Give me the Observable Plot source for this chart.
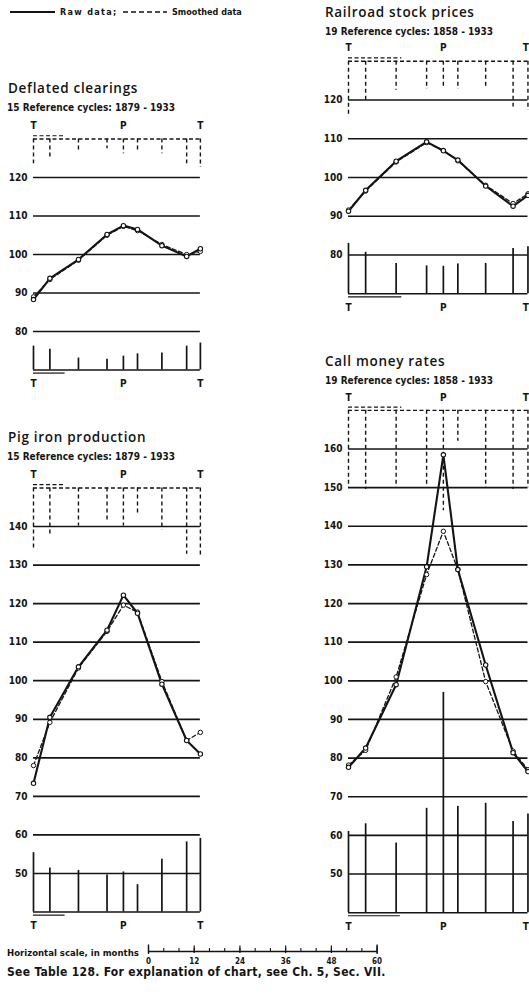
<!DOCTYPE html>
<html><head><meta charset="utf-8">
<script src="https://cdn.jsdelivr.net/npm/d3@7"></script>
<script src="https://cdn.jsdelivr.net/npm/@observablehq/plot@0.6"></script>
<style>
html,body{margin:0;padding:0;background:#fff;}
#page{position:relative;width:529px;height:1007px;overflow:hidden;background:#fff;color:#141414;}
.t{position:absolute;white-space:nowrap;line-height:1;transform:translateY(-50%);}
.title{font-family:"Open Sans",sans-serif;font-weight:600;font-size:13.5px;letter-spacing:0.7px;}
.sub{font-family:"DejaVu Sans Condensed","DejaVu Sans",sans-serif;font-weight:bold;font-size:10px;}
.small{font-family:"DejaVu Sans Condensed","DejaVu Sans",sans-serif;font-weight:bold;font-size:9px;}
.hs{font-size:9.5px;}
.wide{letter-spacing:1.3px;}
.note{font-family:"DejaVu Sans Condensed","DejaVu Sans",sans-serif;font-weight:bold;font-size:12px;letter-spacing:0.3px;}
svg{position:absolute;}
</style></head><body><div id="page"></div>
<script>
// ---------------- DATA ----------------
// stage positions, months from initial reference trough (stages I..IX)
const leftStages  = [0, 4.3, 11.8, 19.3, 23.6, 27.3, 33.7, 40.2, 43.8];  // 15 cycles 1879-1933
const rightStages = [0, 4.5, 12.5, 20.5, 24.9, 28.7, 36.0, 43.2, 47.1];  // 19 cycles 1858-1933

// Deflated clearings
const clearingsRaw      = [88.3, 93.8, 98.7, 105.2, 107.5, 106.5, 102.3, 99.5, 101.5];
const clearingsSmooth   = [89.0, 93.5, 98.5, 105.0, 107.3, 106.2, 102.6, 100.0, 100.8];
const clearingsSmoothDev= [6.4, 4.8, 3.5, 2.5, 3.8, 3.0, 3.8, 6.4, 7.4];
const clearingsRawDev   = [6.2, 5.4, 3.1, 2.8, 3.6, 4.2, 4.4, 6.2, 7.0];
const clearingsTicks    = [120, 110, 100, 90, 80];

// Pig iron production
const pigRaw       = [73.4, 90.5, 103.6, 113.1, 122.2, 117.5, 99.1, 84.5, 81.0];
const pigSmooth    = [78.0, 89.2, 103.3, 112.8, 119.6, 117.8, 99.8, 84.5, 86.6];
const pigSmoothDev = [15.9, 12.2, 9.9, 8.9, 9.9, 7.3, 11.0, 17.2, 17.7];
const pigRawDev    = [15.4, 11.4, 10.8, 9.6, 10.4, 7.1, 13.7, 18.2, 19.1];
const pigTicks     = [140, 130, 120, 110, 100, 90, 80, 70, 60, 50];

// Railroad stock prices
const railRaw       = [91.3, 96.7, 104.2, 109.2, 106.9, 104.5, 97.8, 92.6, 95.4];
const railSmooth    = [91.6, 96.5, 104.0, 109.0, 107.0, 104.3, 98.0, 93.3, 95.8];
const railSmoothDev = [14.4, 10.3, 7.5, 7.3, 7.1, 7.3, 7.1, 11.8, 12.7];
const railRawDev    = [13.0, 10.7, 7.8, 7.2, 7.1, 7.7, 7.8, 11.7, 12.1];
const railTicks     = [120, 110, 100, 90, 80];

// Call money rates
const callRaw       = [77.6, 82.6, 99.0, 129.5, 158.5, 128.8, 104.1, 81.4, 76.5];
const callSmooth    = [78.2, 82.0, 101.0, 127.5, 138.7, 128.8, 99.8, 81.8, 77.0];
const callSmoothDev = [20.0, 20.5, 19.6, 19.8, 26.0, 8.0, 20.0, 20.5, 20.0];
const callRawDev    = [21.0, 23.0, 18.0, 27.0, 57.0, 27.5, 28.3, 23.6, 25.5];
const callTicks     = [160, 150, 140, 130, 120, 110, 100, 90, 80, 70, 60, 50];

// Texts
const legendRaw = "Raw data;";
const legendSmooth = "Smoothed data";
const titles = ["Deflated clearings", "Pig iron production", "Railroad stock prices", "Call money rates"];
const subtitles = ["15 Reference cycles: 1879 - 1933", "15 Reference cycles: 1879 - 1933",
                   "19 Reference cycles: 1858 - 1933", "19 Reference cycles: 1858 - 1933"];
const scaleLabel = "Horizontal scale, in months";
const scaleTicks = [0, 12, 24, 36, 48, 60];
const scaleMinor = d3.range(0, 61, 4);
const footNote = "See Table 128. For explanation of chart, see Ch. 5, Sec. VII.";

// ---------------- DRAWING ----------------
const INK = "#141414";
const PXM = 3.81; // pixels per month
const FONT = "'DejaVu Sans Condensed','DejaVu Sans',sans-serif";
const page = document.getElementById("page");

function label(txt, x, y, cls) {
  const d = document.createElement("div");
  d.className = "t " + cls; d.textContent = txt;
  d.style.left = x + "px"; d.style.top = y + "px";
  page.appendChild(d);
}

function makePanel(c) {
  const [v1, p1, v2, p2] = c.anchor;
  const k = (p2 - p1) / (v2 - v1);
  const ypx = v => p1 + (v - v1) * k - c.top;
  const yDomain = [c.base - 6, c.topLine + 6];
  const rows = c.stages.map((m, i) => ({
    m, raw: c.raw[i], smooth: c.smooth[i],
    td: c.topLine - c.smoothDev[i], bd: c.base + c.rawDev[i]
  }));
  const end = c.stages[c.stages.length - 1];
  const peak = c.stages[4];
  const tpt = [{x: 0, s: "T", a: "middle"}, {x: peak, s: "P", a: "middle"}, {x: end, s: "T", a: c.endAnchor}];
  const txt = {fontFamily: FONT, fontWeight: "bold", fill: INK};
  const letters = (y, dy) => ["middle", "end"].map(a =>
    Plot.text(tpt.filter(d => d.a === a), {x: "x", y, text: "s", dy, textAnchor: a, dx: a === "end" ? 1 : 0, fontSize: 10, ...txt}));
  const svg = Plot.plot({
    width: c.width, height: c.height, margin: 0,
    x: {domain: [0, 60], range: [c.x0 - c.left, c.x0 - c.left + 60 * PXM], axis: null},
    y: {domain: yDomain, range: yDomain.map(ypx), axis: null},
    style: {background: "transparent", overflow: "visible"},
    marks: [
      Plot.ruleY(c.ticks, {x1: 0, x2: end, stroke: INK, strokeWidth: 1.7}),
      Plot.text(c.ticks, {x: 0, y: d => d, text: d => String(d), textAnchor: "end", dx: -6, fontSize: 10, ...txt}),
      // top: smoothed-data deviations (dashed)
      Plot.ruleY([c.topLine], {x1: 0, x2: end, stroke: INK, strokeWidth: 1.4, strokeDasharray: "4,2.5"}),
      Plot.ruleY([c.topLine + 0.85], {x1: 0, x2: c.lead, stroke: INK, strokeWidth: 1.2, strokeDasharray: "4,2.5"}),
      Plot.ruleX(rows, {x: "m", y1: c.topLine, y2: "td", stroke: INK, strokeWidth: 1.4, strokeDasharray: "4,3"}),
      // bottom: raw-data deviations (solid)
      Plot.ruleY([c.base], {x1: 0, x2: end, stroke: INK, strokeWidth: 1.5}),
      Plot.ruleY([c.base - 0.8], {x1: 0, x2: c.leadLow, stroke: INK, strokeWidth: 1.2}),
      Plot.ruleX(rows, {x: "m", y1: c.base, y2: "bd", stroke: INK, strokeWidth: 1.7}),
      // patterns
      Plot.line(rows, {x: "m", y: "smooth", stroke: INK, strokeWidth: 1.3, strokeDasharray: "4,2.5"}),
      Plot.line(rows, {x: "m", y: "raw", stroke: INK, strokeWidth: 2.1}),
      Plot.dot(rows, {x: "m", y: "smooth", r: 2.2, fill: "white", stroke: INK, strokeWidth: 1}),
      Plot.dot(rows, {x: "m", y: "raw", r: 2.2, fill: "white", stroke: INK, strokeWidth: 1.1}),
      // stage letters
      ...letters(c.topLine, -13),
      ...letters(c.base, 14)
    ]
  });
  svg.style.left = c.left + "px";
  svg.style.top = c.top + "px";
  page.appendChild(svg);
}

// legend
label(legendRaw, 60, 12, "small wide");
label(legendSmooth, 172, 12, "small");
{
  const lg = d3.create("svg").attr("width", 529).attr("height", 24).style("left", "0px").style("top", "0px");
  lg.append("line").attr("x1", 10).attr("x2", 55).attr("y1", 12).attr("y2", 12).attr("stroke", INK).attr("stroke-width", 1.8);
  lg.append("line").attr("x1", 123).attr("x2", 167).attr("y1", 12).attr("y2", 12).attr("stroke", INK).attr("stroke-width", 1.6).attr("stroke-dasharray", "5,3");
  page.appendChild(lg.node());
}

// titles
label(titles[0], 8, 89, "title");   label(subtitles[0], 7, 108, "sub");
label(titles[1], 8, 438, "title");  label(subtitles[1], 7, 457, "sub");
label(titles[2], 325, 13, "title"); label(subtitles[2], 325, 32, "sub");
label(titles[3], 325, 362, "title");label(subtitles[3], 325, 381, "sub");

makePanel({left: 0, top: 60, width: 265, height: 340, x0: 33, anchor: [120, 177, 80, 331], endAnchor: "middle",
  stages: leftStages, raw: clearingsRaw, smooth: clearingsSmooth, smoothDev: clearingsSmoothDev,
  rawDev: clearingsRawDev, ticks: clearingsTicks, topLine: 130, base: 70, lead: 8.5, leadLow: 8.3});
makePanel({left: 0, top: 420, width: 265, height: 520, x0: 33, anchor: [140, 526, 50, 873], endAnchor: "middle",
  stages: leftStages, raw: pigRaw, smooth: pigSmooth, smoothDev: pigSmoothDev,
  rawDev: pigRawDev, ticks: pigTicks, topLine: 150, base: 40, lead: 8.5, leadLow: 8.3});
makePanel({left: 265, top: 30, width: 300, height: 300, x0: 348, anchor: [120, 99.5, 80, 254.5], endAnchor: "end",
  stages: rightStages, raw: railRaw, smooth: railSmooth, smoothDev: railSmoothDev,
  rawDev: railRawDev, ticks: railTicks, topLine: 130, base: 70, lead: 14, leadLow: 14});
makePanel({left: 265, top: 385, width: 300, height: 555, x0: 348, anchor: [160, 448.5, 50, 873.5], endAnchor: "end",
  stages: rightStages, raw: callRaw, smooth: callSmooth, smoothDev: callSmoothDev,
  rawDev: callRawDev, ticks: callTicks, topLine: 170, base: 40, lead: 14, leadLow: 13.6});

// horizontal scale
label(scaleLabel, 7, 953, "small hs");
{
  const svg = Plot.plot({
    width: 529, height: 30, margin: 0,
    x: {domain: [0, 60], range: [148, 148 + 60 * PXM], axis: null},
    y: {domain: [0, 1], range: [11, 5], axis: null},
    style: {background: "transparent", overflow: "visible"},
    marks: [
      Plot.ruleY([0], {x1: 0, x2: 60, stroke: INK, strokeWidth: 1.3}),
      Plot.ruleX(scaleMinor, {y1: 0, y2: 0.5, stroke: INK, strokeWidth: 1.1}),
      Plot.ruleX(scaleTicks, {y1: -0.35, y2: 0.9, stroke: INK, strokeWidth: 1.2}),
      Plot.ruleX([0, 60], {y1: -0.5, y2: 1.1, stroke: INK, strokeWidth: 1.3}),
      Plot.text(scaleTicks, {x: d => d, y: 0, text: d => String(d), dy: 10, fontSize: 8, fontFamily: FONT, fontWeight: "bold", fill: INK})
    ]
  });
  svg.style.left = "0px"; svg.style.top = "940px";
  page.appendChild(svg);
}
label(footNote, 7, 972, "note");
</script>
</body></html>
